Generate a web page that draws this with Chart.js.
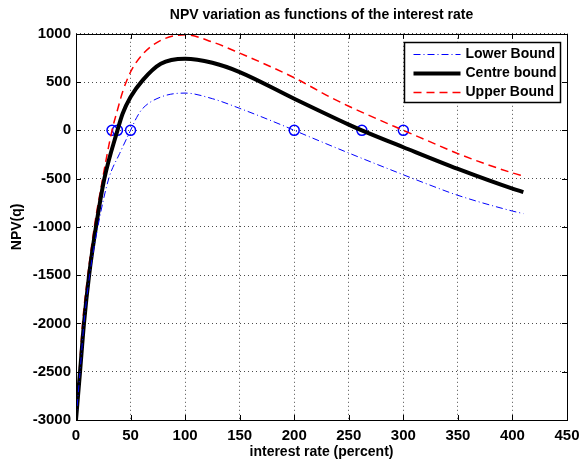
<!DOCTYPE html>
<html>
<head>
<meta charset="utf-8">
<script src="https://cdn.jsdelivr.net/npm/chart.js@4.4.0/dist/chart.umd.min.js"></script>
<style>
  html, body { margin: 0; padding: 0; background: #fff; }
  #wrap { width: 579px; height: 461px; }
</style>
</head>
<body>
<div id="wrap"><canvas id="npvChart" width="579" height="461"></canvas></div>
<script>
// Valores
const rateLower = [0, 3.7, 7.3, 12.5, 20, 30, 40, 50, 55.5, 61, 77.7, 100, 125, 150, 191.8, 200, 250, 300, 323.7, 350, 400, 410];
const npvLower = [-3000, -2500, -2000, -1500, -1000, -500, -240, 0, 131, 225, 345, 386, 328, 228, 40, 0, -235, -460, -564, -673, -836, -862];

const rateCentre = [0, 3.7, 7.3, 12, 18.3, 26, 38, 42.7, 50, 61, 77.7, 100, 125, 150, 200, 250, 262, 300, 350, 400, 410];
const npvCentre = [-3000, -2500, -2000, -1500, -1000, -500, 0, 172, 345, 518, 690, 742, 700, 604, 328, 60, 0, -175, -400, -604, -639];

const rateUpper = [0, 3, 6, 10.8, 16.8, 24.4, 33, 38, 42.7, 50, 61, 77.7, 100, 125, 150, 200, 232, 250, 300, 323.7, 350, 400, 410];
const npvUpper = [-3000, -2500, -2000, -1500, -1000, -500, 0, 210, 397, 604, 787, 932, 990, 915, 800, 545, 350, 250, 0, -114, -241, -441, -472];

// Raíces marcadas con círculos
const rootRates = [33, 38, 50, 200, 262, 300];
const rootValues = [0, 0, 0, 0, 0, 0];

const xTicks = [0, 50, 100, 150, 200, 250, 300, 350, 400, 450];
const yTicks = [-3000, -2500, -2000, -1500, -1000, -500, 0, 500, 1000];

const FONT = 'Liberation Sans, Arial, sans-serif';

function toPoints(xs, ys) {
  return xs.map((x, i) => ({ x: x, y: ys[i] }));
}

// Marco, marcas interiores y leyenda al estilo MATLAB
const matlabFrame = {
  id: 'matlabFrame',
  afterDraw(chart) {
    const ctx = chart.ctx;
    const a = chart.chartArea;
    const xs = chart.scales.x;
    const ys = chart.scales.y;
    ctx.save();
    ctx.strokeStyle = '#000';
    ctx.lineWidth = 1;
    const tl = 5;
    ctx.beginPath();
    xTicks.forEach(v => {
      const px = Math.round(xs.getPixelForValue(v)) + 0.5;
      ctx.moveTo(px, a.bottom); ctx.lineTo(px, a.bottom - tl);
      ctx.moveTo(px, a.top); ctx.lineTo(px, a.top + tl);
    });
    yTicks.forEach(v => {
      const py = Math.round(ys.getPixelForValue(v)) + 0.5;
      ctx.moveTo(a.left, py); ctx.lineTo(a.left + tl, py);
      ctx.moveTo(a.right, py); ctx.lineTo(a.right - tl, py);
    });
    ctx.stroke();
    ctx.strokeRect(Math.round(a.left) + 0.5, Math.round(a.top) + 0.5,
      Math.round(a.right - a.left), Math.round(a.bottom - a.top));

    // Leyenda
    const bw = 156, bh = 60;
    const bx = Math.round(a.right) - 163 + 0.5;
    const by = Math.round(a.top) + 8 + 0.5;
    ctx.fillStyle = '#fff';
    ctx.fillRect(bx, by, bw, bh);
    ctx.lineWidth = 1.5;
    ctx.strokeStyle = '#000';
    ctx.strokeRect(bx, by, bw, bh);
    const entries = chart.data.datasets.filter(d => d.label);
    ctx.font = 'bold 14px ' + FONT;
    ctx.textBaseline = 'middle';
    entries.forEach((d, i) => {
      const cy = by + 12 + i * 19;
      ctx.strokeStyle = d.borderColor;
      ctx.lineWidth = d.borderWidth;
      ctx.setLineDash(d.borderDash || []);
      ctx.beginPath();
      ctx.moveTo(bx + 9, cy);
      ctx.lineTo(bx + 56, cy);
      ctx.stroke();
      ctx.setLineDash([]);
      ctx.fillStyle = '#000';
      ctx.fillText(d.label, bx + 61, cy);
    });
    ctx.restore();
  }
};

const ctx = document.getElementById('npvChart').getContext('2d');
new Chart(ctx, {
  type: 'line',
  data: {
    datasets: [
      {
        label: 'Lower Bound',
        data: toPoints(rateLower, npvLower),
        borderColor: '#0000ff',
        borderWidth: 1,
        borderDash: [7, 3, 1, 3],
        pointRadius: 0,
        fill: false,
        cubicInterpolationMode: 'monotone'
      },
      {
        label: 'Centre bound',
        data: toPoints(rateCentre, npvCentre),
        borderColor: '#000000',
        borderWidth: 4,
        pointRadius: 0,
        fill: false,
        cubicInterpolationMode: 'monotone'
      },
      {
        label: 'Upper Bound',
        data: toPoints(rateUpper, npvUpper),
        borderColor: '#ff0000',
        borderWidth: 1.5,
        borderDash: [8, 5],
        pointRadius: 0,
        fill: false,
        cubicInterpolationMode: 'monotone'
      },
      {
        label: '',
        data: toPoints(rootRates, rootValues),
        showLine: false,
        pointRadius: 5,
        pointBorderWidth: 1.5,
        pointBorderColor: '#0000ff',
        pointBackgroundColor: 'rgba(0,0,0,0)',
        borderColor: '#0000ff'
      }
    ]
  },
  options: {
    responsive: false,
    animation: false,
    layout: { padding: { left: 9, right: 12, top: 0, bottom: 0 } },
    plugins: {
      legend: { display: false },
      tooltip: { enabled: false },
      title: {
        display: true,
        fullSize: false,
        text: 'NPV variation as functions of the interest rate',
        color: '#000',
        font: { family: FONT, size: 14, weight: 'bold' },
        padding: { top: 7, bottom: 10 }
      }
    },
    scales: {
      x: {
        type: 'linear',
        min: 0,
        max: 450,
        afterBuildTicks: s => { s.ticks = xTicks.map(v => ({ value: v })); },
        afterFit: s => { s.height = 41; s.paddingLeft = 0; s.paddingRight = 0; },
        grid: { color: 'rgba(0,0,0,0.7)', lineWidth: 1, drawTicks: false },
        border: { display: false, dash: [1, 3] },
        ticks: {
          color: '#000',
          font: { family: FONT, size: 15, weight: 'bold' },
          padding: 7,
          maxRotation: 0,
          callback: v => String(v)
        },
        title: {
          display: true,
          text: 'interest rate (percent)',
          color: '#000',
          font: { family: FONT, size: 14, weight: 'bold' },
          padding: { top: 0, bottom: 0 }
        }
      },
      y: {
        min: -3000,
        max: 1000,
        afterBuildTicks: s => { s.ticks = yTicks.map(v => ({ value: v })); },
        afterFit: s => { s.width = 67; },
        grid: { color: 'rgba(0,0,0,0.7)', lineWidth: 1, drawTicks: false },
        border: { display: false, dash: [1, 3] },
        ticks: {
          color: '#000',
          font: { family: FONT, size: 15, weight: 'bold' },
          padding: 5,
          callback: v => String(v)
        },
        title: {
          display: true,
          text: 'NPV(q)',
          color: '#000',
          font: { family: FONT, size: 14, weight: 'bold' },
          padding: { top: 0, bottom: 4 }
        }
      }
    }
  },
  plugins: [matlabFrame]
});
</script>
</body>
</html>
